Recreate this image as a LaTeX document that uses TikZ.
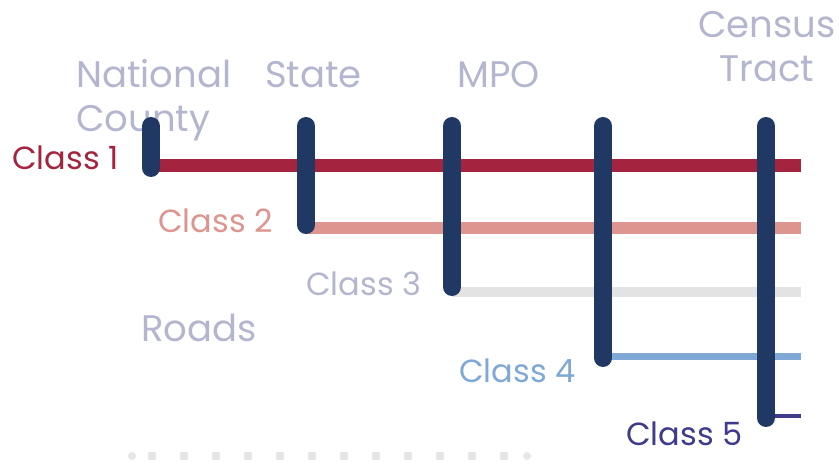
\documentclass[tikz,border=0pt]{standalone}
\usepackage{fontspec}
\setmainfont{Poppins}
\usetikzlibrary{positioning}
\definecolor{navy}{HTML}{1F3864}
\definecolor{headgray}{HTML}{B3B6CE}
\definecolor{crimson}{HTML}{A4243F}
\definecolor{rosepink}{HTML}{DE948F}
\definecolor{lightgray}{HTML}{E3E3E3}
\definecolor{skyblue}{HTML}{80A8D6}
\definecolor{deeppurple}{HTML}{3E3A8C}
\definecolor{dotgray}{HTML}{E6E6E6}
\tikzstyle{header} = [anchor=base west, inner sep=0pt, text=headgray, font=\fontsize{37}{44}\selectfont]
\tikzstyle{classlabel} = [anchor=base west, inner sep=0pt, font=\fontsize{32}{36}\selectfont]
\tikzstyle{bar} = [draw=navy, line width=18pt, line cap=round]
\tikzstyle{road} = [line cap=butt]

\begin{document}
\begin{tikzpicture}[x=1pt, y=-1pt]
    \useasboundingbox (0,0) rectangle (839,465);

    % Nodes
    \node (national) [header] at (76,88) {National};
    \node (county) [header] at (76,132) {County};
    \node (state) [header] at (265,88) {State};
    \node (mpo) [header] at (457,88) {MPO};
    \node (census) [header, anchor=base] at (767,38) {Census};
    \node (tract) [header, anchor=base] at (767,82) {Tract};
    \node (roads) [header] at (141,342) {Roads};

    \node (class1) [classlabel, text=crimson] at (12,170) {Class 1};
    \node (class2) [classlabel, text=rosepink] at (158,233) {Class 2};
    \node (class3) [classlabel, text=headgray] at (306,296) {Class 3};
    \node (class4) [classlabel, text=skyblue] at (459,382) {Class 4};
    \node (class5) [classlabel, text=deeppurple] at (626,445) {Class 5};

    % Bar and road ends
    \coordinate (bar1top) at (151,126);  \coordinate (bar1bot) at (151,168);
    \coordinate (bar2top) at (306,126);  \coordinate (bar2bot) at (306,225);
    \coordinate (bar3top) at (452,126);  \coordinate (bar3bot) at (452,287);
    \coordinate (bar4top) at (603,126);  \coordinate (bar4bot) at (603,358);
    \coordinate (bar5top) at (766,126);  \coordinate (bar5bot) at (766,418);

    \coordinate (road1s) at (151,165.5); \coordinate (road1e) at (801,165.5);
    \coordinate (road2s) at (306,228);   \coordinate (road2e) at (801,228);
    \coordinate (road3s) at (452,292);   \coordinate (road3e) at (801,292);
    \coordinate (road4s) at (603,356.5); \coordinate (road4e) at (801,356.5);
    \coordinate (road5s) at (766,416);   \coordinate (road5e) at (801,416);

    % Connections
    \draw [road, draw=crimson, line width=13pt] (road1s) -- (road1e);
    \draw [road, draw=rosepink, line width=12pt] (road2s) -- (road2e);
    \draw [road, draw=lightgray, line width=10pt] (road3s) -- (road3e);
    \draw [road, draw=skyblue, line width=7pt] (road4s) -- (road4e);
    \draw [road, draw=deeppurple, line width=4pt] (road5s) -- (road5e);

    \draw [bar] (bar1top) -- (bar1bot);
    \draw [bar] (bar2top) -- (bar2bot);
    \draw [bar] (bar3top) -- (bar3bot);
    \draw [bar] (bar4top) -- (bar4bot);
    \draw [bar] (bar5top) -- (bar5bot);

    % Dotted rule
    \fill [dotgray] (132,456) circle (4);
    \fill [dotgray] (527,456) circle (4);
    \foreach \i in {0,...,11}
        \fill [dotgray] (152+32*\i-4,452) rectangle ++(8,8);
\end{tikzpicture}
\end{document}
